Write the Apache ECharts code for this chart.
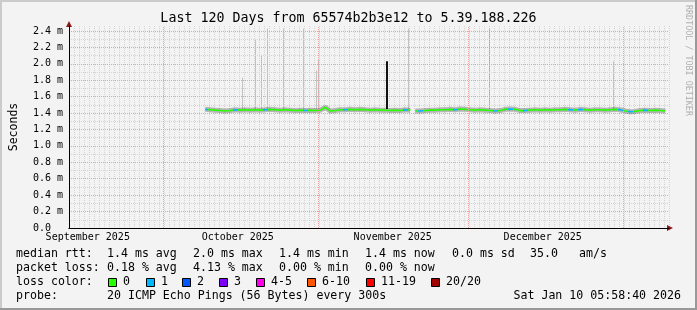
<!DOCTYPE html>
<html><head><meta charset="utf-8">
<script src="https://cdn.jsdelivr.net/npm/echarts@6/dist/echarts.min.js"></script>
<style>html,body{margin:0;padding:0;background:#f3f3f3}#c{width:697px;height:310px}</style>
</head><body><div id="c"></div>
<script>
// ---------------- data ----------------
const titleText = 'Last 120 Days from 65574b2b3e12 to 5.39.188.226';
const rangeEnd = '2026-01-10T05:58:40Z';
const rangeDays = 120;
const firstSample = '2025-10-09T12:00:00Z'; // one sample per day
const medianRtt = [
  1.445,1.44,1.435,1.43,1.425,1.43,1.44,1.435,1.44,1.435,
  1.44,1.435,1.44,1.445,1.44,1.435,1.44,1.435,1.43,1.435,
  1.43,1.435,1.43,1.435,1.47,1.425,1.43,1.44,1.44,1.445,
  1.44,1.445,1.44,1.435,1.44,1.435,1.435,1.43,1.435,1.43,
  1.44,1.435,1.425,1.425,1.43,1.435,1.435,1.44,1.44,1.445,
  1.44,1.45,1.445,1.44,1.435,1.44,1.435,1.43,1.425,1.43,
  1.445,1.45,1.445,1.43,1.43,1.435,1.44,1.435,1.44,1.435,
  1.44,1.44,1.445,1.44,1.435,1.445,1.44,1.435,1.44,1.44,
  1.435,1.44,1.445,1.44,1.425,1.415,1.42,1.43,1.435,1.43,
  1.435,1.43,1.425
];
const lossCount = [
  1,0,0,0,0,0,1,0,0,0,
  0,0,1,0,0,0,0,0,0,0,
  1,0,0,0,0,0,0,0,1,0,
  0,0,0,0,0,0,0,0,0,0,
  1,0,0,1,0,0,0,0,0,0,
  1,0,0,0,0,0,0,0,1,0,
  0,1,0,0,1,0,0,0,0,0,
  0,0,0,1,0,1,0,0,0,0,
  0,0,0,1,0,1,0,0,1,0,
  0,0,0
];
const smokeLo = [
  1.40,1.395,1.39,1.39,1.385,1.39,1.395,1.39,1.395,1.39,
  1.395,1.39,1.395,1.40,1.395,1.39,1.395,1.39,1.385,1.39,
  1.385,1.39,1.385,1.39,1.42,1.385,1.385,1.395,1.395,1.40,
  1.395,1.40,1.395,1.39,1.395,1.39,1.39,1.385,1.39,1.385,
  1.395,1.39,1.38,1.38,1.385,1.39,1.39,1.395,1.395,1.40,
  1.395,1.405,1.40,1.395,1.39,1.395,1.39,1.385,1.38,1.385,
  1.40,1.405,1.40,1.385,1.385,1.39,1.395,1.39,1.395,1.39,
  1.395,1.395,1.40,1.395,1.39,1.40,1.395,1.39,1.395,1.395,
  1.39,1.395,1.40,1.395,1.38,1.37,1.375,1.385,1.39,1.385,
  1.39,1.385,1.38
];
const smokeHi = [
  1.485,1.48,1.475,1.475,1.47,1.475,1.485,1.48,1.485,1.48,
  1.485,1.48,1.485,1.49,1.485,1.48,1.485,1.48,1.475,1.48,
  1.475,1.48,1.475,1.48,1.505,1.475,1.475,1.485,1.485,1.49,
  1.485,1.49,1.485,1.48,1.485,1.48,1.48,1.475,1.48,1.475,
  1.485,1.48,1.47,1.47,1.475,1.48,1.48,1.485,1.485,1.49,
  1.485,1.495,1.49,1.485,1.48,1.485,1.48,1.475,1.47,1.475,
  1.49,1.495,1.49,1.475,1.475,1.48,1.485,1.48,1.485,1.48,
  1.485,1.485,1.49,1.485,1.48,1.49,1.485,1.48,1.485,1.485,
  1.48,1.485,1.49,1.485,1.47,1.46,1.465,1.475,1.48,1.475,
  1.48,1.475,1.47
];
const gapTimes = ['2025-11-20T06:00:00Z'];
const spikeTimes = ['2025-10-16T22:00:00Z','2025-10-19T11:00:00Z','2025-10-20T14:00:00Z','2025-10-21T19:00:00Z',
  '2025-10-25T00:00:00Z','2025-10-29T00:00:00Z','2025-10-31T14:00:00Z','2025-11-01T03:00:00Z',
  '2025-11-19T01:00:00Z','2025-12-05T05:00:00Z','2025-12-30T00:00:00Z'];
const spikeTops = [1.83,2.29,2.11,2.43,2.43,2.43,1.92,2.05,2.43,2.43,2.03];
const blackSpikeTimes = ['2025-11-14T18:00:00Z'];
const blackSpikeTops = [2.03];
const spikeBase = 1.45;
const monthStarts = ['2025-10-01T00:00:00Z','2025-11-01T00:00:00Z','2025-12-01T00:00:00Z','2026-01-01T00:00:00Z'];
const monthLabelTimes = ['2025-09-16T00:00:00Z','2025-10-16T00:00:00Z','2025-11-16T00:00:00Z','2025-12-16T00:00:00Z'];
const monthLabels = ['September 2025','October 2025','November 2025','December 2025'];
const yMax = 2.46, yStep = 0.2;
const lossLevels = ['0','1','2','3','4-5','6-10','11-19','20/20'];
const lossColors = ['#26ff00','#00b8ff','#0059ff','#7e00ff','#ff00ea','#ff5500','#ff0000','#a10000'];
const rttStats = ['1.4 ms avg','2.0 ms max','1.4 ms min','1.4 ms now','0.0 ms sd','35.0','am/s'];
const lossStats = ['0.18 % avg','4.13 % max','0.00 % min','0.00 % now'];
const probeText = '20 ICMP Echo Pings (56 Bytes) every 300s';
const stampText = 'Sat Jan 10 05:58:40 2026';
const creditText = 'RRDTOOL / TOBI OETIKER';

// ---------------- build ----------------
const DAY = 86400000;
const tEnd = Date.parse(rangeEnd);
const tStart = tEnd - rangeDays * DAY;
const t0 = Date.parse(firstSample);
const sampleTimes = medianRtt.map((_, i) => t0 + i * DAY);
function rows(vals) {
  const r = sampleTimes.map((t, i) => [t, vals[i]]);
  gapTimes.forEach(g => r.push([Date.parse(g), null]));
  r.sort((a, b) => a[0] - b[0]);
  return r;
}
const spread = smokeHi.map((h, i) => +(h - smokeLo[i]).toFixed(3));
const labelTs = monthLabelTimes.map(Date.parse);
const lossPieces = [];
lossCount.forEach((c, i) => {
  if (c > 0) lossPieces.push({ gte: sampleTimes[i] - 0.45 * DAY, lt: sampleTimes[i] + 0.45 * DAY, color: lossColors[c] });
});
const MONO = '"DejaVu Sans Mono", monospace';
const legFont = '11.6px "DejaVu Sans Mono"';
const MAJOR = '#f0a0a0';
const MINOR = '#d4d4d4';

function spikeRender(color, width) {
  return function (params, api) {
    const a = api.coord([api.value(0), api.value(1)]);
    const b = api.coord([api.value(0), api.value(2)]);
    const x = Math.round(a[0]) + (width % 2 ? 0.5 : 0);
    return { type: 'line', shape: { x1: x, y1: a[1], x2: x, y2: b[1] }, style: { stroke: color, lineWidth: width } };
  };
}

const graphics = [];
function txt(text, x, y, extra) {
  graphics.push({ type: 'text', x: x, y: y, silent: true,
    style: Object.assign({ text: text, font: legFont, fill: '#000', textAlign: 'left', textVerticalAlign: 'middle' }, extra || {}) });
}
const rowY = [253.5, 267.5, 281.5, 295.5];
const colX = [107, 193, 279, 365, 452, 530, 579];
txt('median rtt:', 16, rowY[0]);
rttStats.forEach((s, i) => txt(s, colX[i], rowY[0]));
txt('packet loss:', 16, rowY[1]);
lossStats.forEach((s, i) => txt(s, colX[i], rowY[1]));
txt('loss color:', 16, rowY[2]);
const boxX = [108, 146, 182, 219, 256, 307, 366, 431];
lossLevels.forEach((l, i) => {
  graphics.push({ type: 'rect', silent: true, shape: { x: boxX[i] + 0.5, y: 278.5, width: 8, height: 8 },
    style: { fill: lossColors[i], stroke: '#000', lineWidth: 1 } });
  txt(l, boxX[i] + 15, rowY[2]);
});
txt('probe:', 16, rowY[3]);
txt(probeText, 107, rowY[3]);
txt(stampText, 681, rowY[3], { textAlign: 'right' });
graphics.push({ type: 'text', x: 688, y: 5, rotation: -Math.PI / 2, silent: true,
  style: { text: creditText, font: '8.4px "DejaVu Sans Mono"', fill: '#b0b0b0', textAlign: 'left', textVerticalAlign: 'middle' } });
graphics.push({ type: 'rect', silent: true, shape: { x: 0, y: 0, width: 697, height: 2 }, style: { fill: '#cbcbcb' } });
graphics.push({ type: 'rect', silent: true, shape: { x: 0, y: 0, width: 2, height: 310 }, style: { fill: '#cbcbcb' } });
graphics.push({ type: 'rect', silent: true, shape: { x: 695, y: 0, width: 2, height: 310 }, style: { fill: '#999999' } });
graphics.push({ type: 'rect', silent: true, shape: { x: 0, y: 308, width: 697, height: 2 }, style: { fill: '#999999' } });

const chart = echarts.init(document.getElementById('c'), null, { renderer: 'canvas' });
chart.setOption({
  animation: false,
  backgroundColor: '#f3f3f3',
  title: { text: titleText, left: 'center', top: 12, padding: 0,
    textStyle: { fontFamily: MONO, fontSize: 13.3, fontWeight: 'normal', color: '#000' } },
  grid: { left: 66, right: 28, top: 26, bottom: 82, containLabel: false },
  xAxis: [
    { type: 'value', position: 'bottom', min: tStart, max: tEnd, z: 3,
      axisLine: { show: true, lineStyle: { color: '#000', width: 1 } },
      axisTick: { show: false },
      splitLine: { show: false },
      axisLabel: { customValues: labelTs, hideOverlap: false, margin: 4,
        fontFamily: MONO, fontSize: 10, color: '#000',
        formatter: v => { const i = labelTs.indexOf(+v); return i >= 0 ? monthLabels[i] : ''; } } },
    { type: 'value', position: 'bottom', min: tStart, max: tEnd, interval: DAY, z: 1,
      axisLine: { show: true, lineStyle: { color: '#8b1a1a' }, symbol: ['none', 'triangle'], symbolSize: [6, 6], symbolOffset: [0, 1] },
      axisTick: { show: false }, axisLabel: { show: false },
      splitLine: { show: true, lineStyle: { color: MINOR, type: [1, 1], width: 1 } } }
  ],
  yAxis: [
    { type: 'value', position: 'left', min: 0, max: yMax, interval: yStep, z: 3,
      axisLine: { show: true, lineStyle: { color: '#000' } },
      axisTick: { show: false },
      axisLabel: { fontFamily: MONO, fontSize: 10, color: '#000', margin: 6, showMaxLabel: false,
        formatter: v => v === 0 ? '0.0  ' : v.toFixed(1) + ' m' },
      splitLine: { show: true, showMaxLine: false, lineStyle: { color: [MAJOR], type: [1, 1], width: 1, opacity: 1 } },
      minorTick: { show: false, splitNumber: 2 },
      minorSplitLine: { show: true, lineStyle: { color: MINOR, type: [1, 1], width: 1 } },
      name: 'Seconds', nameLocation: 'middle', nameRotate: 90, nameGap: 49,
      nameTextStyle: { fontFamily: MONO, fontSize: 11.5, color: '#000' } },
    { type: 'value', position: 'left', min: 0, max: yMax, z: 1,
      axisLine: { show: true, lineStyle: { color: '#8b1a1a' }, symbol: ['none', 'triangle'], symbolSize: [6, 6], symbolOffset: [0, 2] },
      axisTick: { show: false }, axisLabel: { show: false }, splitLine: { show: false } }
  ],
  visualMap: { show: false, type: 'piecewise', dimension: 0, seriesIndex: 4, pieces: lossPieces,
    outOfRange: { color: lossColors[0] } },
  series: [
    { type: 'custom', name: 'spikes', xAxisIndex: 0, yAxisIndex: 0, silent: true, clip: true, z: 1,
      renderItem: spikeRender('rgba(0,0,0,0.2)', 1), encode: { x: 0, y: [1, 2] },
      data: spikeTimes.map((t, i) => [Date.parse(t), spikeBase, spikeTops[i]]) },
    { type: 'line', name: 'smokeLo', stack: 'smoke', xAxisIndex: 0, yAxisIndex: 0, silent: true, z: 2,
      showSymbol: false, symbol: 'none', lineStyle: { width: 0, opacity: 0 }, data: rows(smokeLo),
      markLine: { silent: true, symbol: ['none', 'none'], label: { show: false }, emphasis: { disabled: true },
        lineStyle: { color: MAJOR, type: [1, 1], width: 1, opacity: 1 },
        data: monthStarts.map(m => ({ xAxis: Date.parse(m), lineStyle: { color: MAJOR, opacity: 1 } })) } },
    { type: 'line', name: 'smoke', stack: 'smoke', xAxisIndex: 0, yAxisIndex: 0, silent: true, z: 2,
      showSymbol: false, symbol: 'none', lineStyle: { width: 0, opacity: 0 },
      areaStyle: { color: 'rgba(0,0,0,0.17)', opacity: 1 }, data: rows(spread) },
    { type: 'line', name: 'core', xAxisIndex: 0, yAxisIndex: 0, silent: true, z: 3,
      showSymbol: false, symbol: 'none', lineStyle: { width: 5, color: 'rgba(0,0,0,0.25)' }, data: rows(medianRtt) },
    { type: 'line', name: 'median', xAxisIndex: 0, yAxisIndex: 0, silent: true, z: 4,
      showSymbol: false, symbol: 'none', lineStyle: { width: 1.6 }, data: rows(medianRtt) },
    { type: 'custom', name: 'blackSpike', xAxisIndex: 0, yAxisIndex: 0, silent: true, clip: true, z: 5,
      renderItem: spikeRender('#111', 2), encode: { x: 0, y: [1, 2] },
      data: blackSpikeTimes.map((t, i) => [Date.parse(t), spikeBase, blackSpikeTops[i]]) }
  ],
  graphic: graphics
});
</script>
</body></html>
